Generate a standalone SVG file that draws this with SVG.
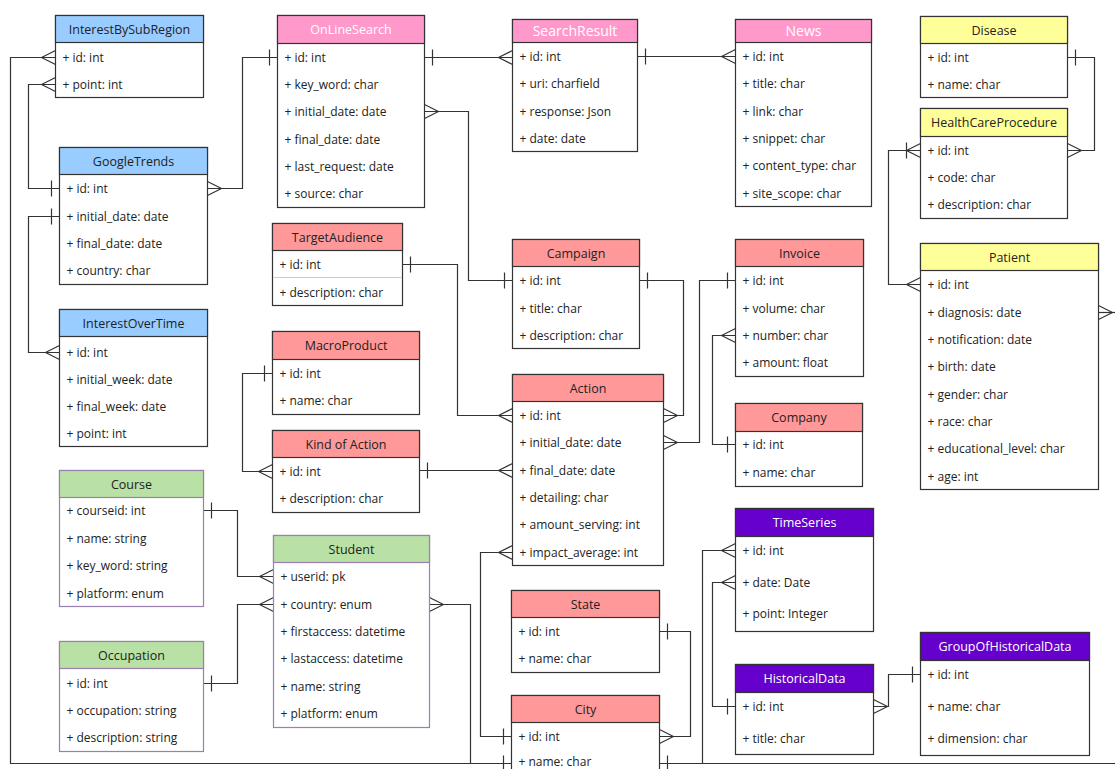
<svg xmlns="http://www.w3.org/2000/svg" width="1115" height="769" viewBox="0 0 1115 769">
<style>
.box{fill:#fff;stroke:#333;stroke-width:1.2}
.gbox{fill:#fff;stroke:#9a7fb0;stroke-width:1.2}
.blue{fill:#99ccff;stroke:#333;stroke-width:1.2}
.pink{fill:#ff99cc;stroke:#333;stroke-width:1.2}
.yellow{fill:#ffff99;stroke:#333;stroke-width:1.2}
.red{fill:#ff9999;stroke:#333;stroke-width:1.2}
.green{fill:#b9e0a5;stroke:#9a7fb0;stroke-width:1.2}
.purple{fill:#6600cc;stroke:#333;stroke-width:1.2}
text{font-family:"Open Sans","Noto Sans","DejaVu Sans",sans-serif;font-size:12px;fill:#222}
.h{font-size:12.5px;text-anchor:middle}
.w{fill:#fff}
.conn{fill:none;stroke:#333;stroke-width:1.2}
.mk{fill:none;stroke:#333;stroke-width:1.2}
.sep{stroke:#ccc;stroke-width:1}
</style>
<defs>
<marker id="many" markerUnits="userSpaceOnUse" orient="auto-start-reverse" refX="0" refY="0" markerWidth="20" markerHeight="20" overflow="visible">
<path class="mk" d="M-14,0 L0,-7 M-14,0 L0,7"/>
</marker>
<marker id="one" markerUnits="userSpaceOnUse" orient="auto-start-reverse" refX="0" refY="0" markerWidth="20" markerHeight="20" overflow="visible">
<path class="mk" d="M-8,-8 L-8,8"/>
</marker>
<marker id="onemany" markerUnits="userSpaceOnUse" orient="auto-start-reverse" refX="0" refY="0" markerWidth="20" markerHeight="20" overflow="visible">
<path class="mk" d="M-14,0 L0,-7 M-14,0 L0,7 M-14,-8 L-14,8"/>
</marker>
</defs>
<g transform="translate(0.5 0.5)">
<g id="connectors">
<path class="conn" d="M55,57 H10 V763 H511" marker-start="url(#many)" marker-end="url(#one)"/>
<path class="conn" d="M429,604 H470 V763" marker-start="url(#many)"/>
<path class="conn" d="M735,550 H702 V763" marker-start="url(#many)"/>
<path class="conn" d="M659,763 H1115" marker-start="url(#one)"/>
<path class="conn" d="M1098,312 H1115" marker-start="url(#many)"/>
<path class="conn" d="M55,84 H28 V188 H59" marker-start="url(#many)" marker-end="url(#one)"/>
<path class="conn" d="M207,188 H242 V57 H277" marker-start="url(#many)" marker-end="url(#one)"/>
<path class="conn" d="M59,216 H28 V352 H59" marker-start="url(#one)" marker-end="url(#many)"/>
<path class="conn" d="M424,57 H512" marker-start="url(#one)" marker-end="url(#many)"/>
<path class="conn" d="M424,111 H468 V280 H512" marker-start="url(#many)" marker-end="url(#one)"/>
<path class="conn" d="M637,56 H735" marker-start="url(#one)" marker-end="url(#many)"/>
<path class="conn" d="M1067,57 H1094 V150 H1067" marker-start="url(#one)" marker-end="url(#many)"/>
<path class="conn" d="M920,150 H888 V284 H920" marker-start="url(#onemany)" marker-end="url(#many)"/>
<path class="conn" d="M402,264 H457 V415 H512" marker-start="url(#one)" marker-end="url(#many)"/>
<path class="conn" d="M272,373 H242 V471 H272" marker-start="url(#one)" marker-end="url(#many)"/>
<path class="conn" d="M419,470 H512" marker-start="url(#one)" marker-end="url(#many)"/>
<path class="conn" d="M639,280 H683 V415 H663" marker-start="url(#one)" marker-end="url(#many)"/>
<path class="conn" d="M663,442 H699 V280 H735" marker-start="url(#many)" marker-end="url(#one)"/>
<path class="conn" d="M735,335 H712 V444 H735" marker-start="url(#many)" marker-end="url(#one)"/>
<path class="conn" d="M512,552 H480 V736 H511" marker-start="url(#many)" marker-end="url(#one)"/>
<path class="conn" d="M659,631 H690 V736 H659" marker-start="url(#one)" marker-end="url(#many)"/>
<path class="conn" d="M203,510 H237 V576 H273" marker-start="url(#one)" marker-end="url(#many)"/>
<path class="conn" d="M203,683 H237 V604 H273" marker-start="url(#one)" marker-end="url(#many)"/>
<path class="conn" d="M735,582 H712 V706 H735" marker-start="url(#many)" marker-end="url(#one)"/>
<path class="conn" d="M873,706 H888 V674 H920" marker-start="url(#many)" marker-end="url(#one)"/>
</g>

<g id="InterestBySubRegion">
<rect class="box" x="55" y="15" width="148" height="82"/>
<rect class="blue" x="55" y="15" width="148" height="27"/>
<text class="h" x="129" y="33">InterestBySubRegion</text>
<text x="62" y="61">+ id: int</text>
<text x="62" y="88">+ point: int</text>
</g>

<g id="GoogleTrends">
<rect class="box" x="59" y="147" width="148" height="137"/>
<rect class="blue" x="59" y="147" width="148" height="27"/>
<text class="h" x="133" y="165">GoogleTrends</text>
<text x="66" y="192">+ id: int</text>
<text x="66" y="220">+ initial_date: date</text>
<text x="66" y="247">+ final_date: date</text>
<text x="66" y="274">+ country: char</text>
</g>

<g id="InterestOverTime">
<rect class="box" x="59" y="309" width="148" height="137"/>
<rect class="blue" x="59" y="309" width="148" height="27"/>
<text class="h" x="133" y="327">InterestOverTime</text>
<text x="66" y="356">+ id: int</text>
<text x="66" y="383">+ initial_week: date</text>
<text x="66" y="410">+ final_week: date</text>
<text x="66" y="437">+ point: int</text>
</g>

<g id="Course">
<rect class="gbox" x="59" y="470" width="144" height="136"/>
<rect class="green" x="59" y="470" width="144" height="27"/>
<text class="h" x="131" y="488">Course</text>
<text x="66" y="514">+ courseid: int</text>
<text x="66" y="542">+ name: string</text>
<text x="66" y="569">+ key_word: string</text>
<text x="66" y="597">+ platform: enum</text>
</g>

<g id="Occupation">
<rect class="gbox" x="59" y="641" width="144" height="110"/>
<rect class="green" x="59" y="641" width="144" height="27"/>
<text class="h" x="131" y="659">Occupation</text>
<text x="66" y="687">+ id: int</text>
<text x="66" y="714">+ occupation: string</text>
<text x="66" y="741">+ description: string</text>
</g>

<g id="OnLineSearch">
<rect class="box" x="277" y="15" width="147" height="192"/>
<rect class="pink" x="277" y="15" width="147" height="28"/>
<text class="h w" x="350.5" y="33.5">OnLineSearch</text>
<text x="284" y="61">+ id: int</text>
<text x="284" y="88">+ key_word: char</text>
<text x="284" y="115">+ initial_date: date</text>
<text x="284" y="143">+ final_date: date</text>
<text x="284" y="170">+ last_request: date</text>
<text x="284" y="197">+ source: char</text>
</g>

<g id="SearchResult">
<rect class="box" x="512" y="19" width="125" height="132"/>
<rect class="pink" x="512" y="19" width="125" height="23"/>
<text class="h w" x="574.5" y="35" style="font-size:14px">SearchResult</text>
<text x="519" y="60">+ id: int</text>
<text x="519" y="87">+ uri: charfield</text>
<text x="519" y="115">+ response: Json</text>
<text x="519" y="142">+ date: date</text>
</g>

<g id="News">
<rect class="box" x="735" y="19" width="136" height="187"/>
<rect class="pink" x="735" y="19" width="136" height="23"/>
<text class="h w" x="803" y="35" style="font-size:14px">News</text>
<text x="742" y="60">+ id: int</text>
<text x="742" y="87">+ title: char</text>
<text x="742" y="115">+ link: char</text>
<text x="742" y="142">+ snippet: char</text>
<text x="742" y="169">+ content_type: char</text>
<text x="742" y="197">+ site_scope: char</text>
</g>

<g id="Disease">
<rect class="box" x="920" y="16" width="147" height="81"/>
<rect class="yellow" x="920" y="16" width="147" height="27"/>
<text class="h" x="993.5" y="34">Disease</text>
<text x="927" y="61">+ id: int</text>
<text x="927" y="88">+ name: char</text>
</g>

<g id="HealthCareProcedure">
<rect class="box" x="920" y="108" width="147" height="110"/>
<rect class="yellow" x="920" y="108" width="147" height="28"/>
<text class="h" x="993.5" y="126.5">HealthCareProcedure</text>
<text x="927" y="154">+ id: int</text>
<text x="927" y="181">+ code: char</text>
<text x="927" y="208">+ description: char</text>
</g>

<g id="Patient">
<rect class="box" x="920" y="243" width="178" height="246"/>
<rect class="yellow" x="920" y="243" width="178" height="27"/>
<text class="h" x="1009" y="261">Patient</text>
<text x="927" y="288">+ id: int</text>
<text x="927" y="316">+ diagnosis: date</text>
<text x="927" y="343">+ notification: date</text>
<text x="927" y="370">+ birth: date</text>
<text x="927" y="398">+ gender: char</text>
<text x="927" y="425">+ race: char</text>
<text x="927" y="452">+ educational_level: char</text>
<text x="927" y="480">+ age: int</text>
</g>

<g id="TargetAudience">
<rect class="box" x="272" y="223" width="130" height="82"/>
<rect class="red" x="272" y="223" width="130" height="27"/>
<line class="sep" x1="273" y1="277" x2="401" y2="277"/>
<text class="h" x="337" y="241">TargetAudience</text>
<text x="279" y="268">+ id: int</text>
<text x="279" y="296">+ description: char</text>
</g>

<g id="MacroProduct">
<rect class="box" x="272" y="331" width="147" height="83"/>
<rect class="red" x="272" y="331" width="147" height="28"/>
<text class="h" x="345.5" y="349.5">MacroProduct</text>
<text x="279" y="377">+ id: int</text>
<text x="279" y="404">+ name: char</text>
</g>

<g id="KindOfAction">
<rect class="box" x="272" y="430" width="147" height="82"/>
<rect class="red" x="272" y="430" width="147" height="27"/>
<text class="h" x="345.5" y="448">Kind of Action</text>
<text x="279" y="475">+ id: int</text>
<text x="279" y="502">+ description: char</text>
</g>

<g id="Campaign">
<rect class="box" x="512" y="239" width="127" height="109"/>
<rect class="red" x="512" y="239" width="127" height="27"/>
<text class="h" x="575.5" y="257">Campaign</text>
<text x="519" y="284">+ id: int</text>
<text x="519" y="312">+ title: char</text>
<text x="519" y="339">+ description: char</text>
</g>

<g id="Action">
<rect class="box" x="512" y="374" width="151" height="191"/>
<rect class="red" x="512" y="374" width="151" height="27"/>
<text class="h" x="587.5" y="392">Action</text>
<text x="519" y="419">+ id: int</text>
<text x="519" y="446">+ initial_date: date</text>
<text x="519" y="474">+ final_date: date</text>
<text x="519" y="501">+ detailing: char</text>
<text x="519" y="528">+ amount_serving: int</text>
<text x="519" y="556">+ impact_average: int</text>
</g>

<g id="Invoice">
<rect class="box" x="735" y="239" width="128" height="137"/>
<rect class="red" x="735" y="239" width="128" height="27"/>
<text class="h" x="799" y="257">Invoice</text>
<text x="742" y="284">+ id: int</text>
<text x="742" y="312">+ volume: char</text>
<text x="742" y="339">+ number: char</text>
<text x="742" y="366">+ amount: float</text>
</g>

<g id="Company">
<rect class="box" x="735" y="403" width="127" height="83"/>
<rect class="red" x="735" y="403" width="127" height="28"/>
<text class="h" x="798.5" y="421.5">Company</text>
<text x="742" y="448">+ id: int</text>
<text x="742" y="476">+ name: char</text>
</g>

<g id="TimeSeries">
<rect class="box" x="735" y="508" width="138" height="123"/>
<rect class="purple" x="735" y="508" width="138" height="28"/>
<text class="h w" x="804" y="526.5">TimeSeries</text>
<text x="742" y="554">+ id: int</text>
<text x="742" y="586">+ date: Date</text>
<text x="742" y="617">+ point: Integer</text>
</g>

<g id="HistoricalData">
<rect class="box" x="735" y="664" width="138" height="90"/>
<rect class="purple" x="735" y="664" width="138" height="28"/>
<text class="h w" x="804" y="682.5">HistoricalData</text>
<text x="742" y="710">+ id: int</text>
<text x="742" y="742">+ title: char</text>
</g>

<g id="GroupOfHistoricalData">
<rect class="box" x="920" y="632" width="169" height="123"/>
<rect class="purple" x="920" y="632" width="169" height="28"/>
<text class="h w" x="1004.5" y="650.5">GroupOfHistoricalData</text>
<text x="927" y="678">+ id: int</text>
<text x="927" y="710">+ name: char</text>
<text x="927" y="742">+ dimension: char</text>
</g>

<g id="Student">
<rect class="gbox" x="273" y="535" width="156" height="192"/>
<rect class="green" x="273" y="535" width="156" height="27"/>
<text class="h" x="351" y="553">Student</text>
<text x="280" y="580">+ userid: pk</text>
<text x="280" y="608">+ country: enum</text>
<text x="280" y="635">+ firstaccess: datetime</text>
<text x="280" y="662">+ lastaccess: datetime</text>
<text x="280" y="690">+ name: string</text>
<text x="280" y="717">+ platform: enum</text>
</g>

<g id="State">
<rect class="box" x="511" y="590" width="148" height="82"/>
<rect class="red" x="511" y="590" width="148" height="27"/>
<text class="h" x="585" y="608">State</text>
<text x="518" y="635">+ id: int</text>
<text x="518" y="662">+ name: char</text>
</g>

<g id="City">
<rect class="box" x="511" y="695" width="148" height="84"/>
<rect class="red" x="511" y="695" width="148" height="27"/>
<text class="h" x="585" y="713">City</text>
<text x="518" y="740">+ id: int</text>
<text x="518" y="765">+ name: char</text>
</g>
</g>
</svg>
